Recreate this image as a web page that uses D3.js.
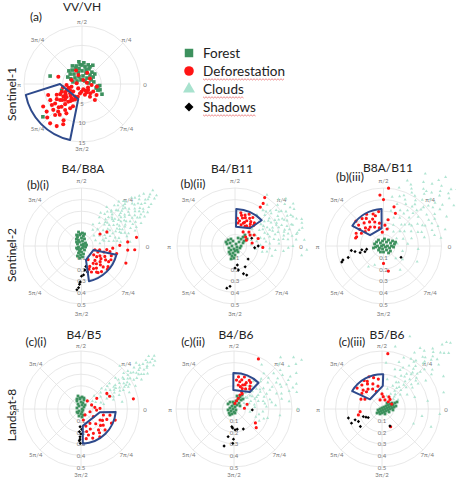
<!DOCTYPE html>
<html>
<head>
<meta charset="utf-8">
<script src="https://cdn.jsdelivr.net/npm/d3@7"></script>
<style>
  body { margin: 0; background: #fff; }
  svg { display: block; font-family: Lato, "Open Sans", sans-serif; }
</style>
</head>
<body>
<svg id="chart" width="456" height="478"></svg>
<script>
// ---- tick labels / categories ----
const angleTicks = [0, 45, 90, 135, 180, 225, 270, 315];
const angleLabels = ["0", "π/4", "π/2", "3π/4", "π", "5π/4", "3π/2", "7π/4"];
const ringsA = [5, 10, 15];
const ringsB = [0.1, 0.2, 0.3, 0.4, 0.5];
const classes = ["Forest", "Deforestation", "Clouds", "Shadows"];

// ---- data: [angle in degrees, radius] ----
// (a) VV/VH
const aForest = [[125,4.4],[108,4.9],[96,5.0],[80,4.5],[65,4.3],[50,4.0],[140,4.0],[129,3.3],[108,3.2],[90,3.4],[70,3.0],[48,3.1],[32,3.4],[155,3.2],[139,2.4],[113,2.0],[83,2.1],[50,2.0],[24,2.6],[10,3.1],[167,2.4],[149,1.5],[104,1.1],[45,1.1],[8,1.8],[111,4.4],[85,5.5],[72,5.2],[101,4.0],[74,3.8],[38,4.2],[154,4.1],[353,4.2],[166,8.5],[342,4.9],[220,13.2],[333,5.8],[197,5.5],[344,3.8],[90,4.9],[65,4.9],[339,4.4],[355,4.6],[202,4.2],[118,5.3],[60,5.6],[98,5.8],[135,4.8]];
const aDefor = [[163,6.4],[201,4.2],[218,3.9],[221,3.0],[229,1.5],[284,1.4],[316,2.2],[326,3.5],[323,4.7],[214,5.8],[223,6.0],[216,7.0],[232,5.8],[234,4.6],[241,3.7],[201,5.6],[203,7.1],[184,4.0],[195,2.8],[172,1.4],[258,2.5],[285,2.9],[302,3.9],[228,7.9],[216,8.6],[207,9.2],[210,11.6],[218,11.6],[229,10.6],[231,13.1],[239,12.7],[243,10.5],[242,8.6],[244,7.0],[222,10.0],[229,9.4],[237,8.0],[215,9.5],[198,9.2],[114,3.8],[112,2.5],[65,3.2],[72,1.1],[35,2.5],[159,2.9],[354,2.5],[15,1.3],[309,5.3],[350,3.9],[208,3.5],[226,4.2],[212,5.0],[236,5.3],[246,4.4],[219,6.6],[205,6.2],[190,5.0],[196,3.6],[248,6.2],[252,3.5],[266,2.0],[300,2.5],[330,1.8],[225,8.5],[234,9.8],[211,7.6],[245,11.5],[224,12.5],[206,4.8],[230,6.8],[220,5.2],[240,4.8],[312,3.2],[296,1.9]];

// (b)(i) B4/B8A
const b1Forest = [[102,0.123],[86,0.112],[100,0.096],[79,0.087],[114,0.085],[90,0.069],[67,0.066],[117,0.058],[79,0.044],[117,0.039],[37,0.043],[153,0.039],[90,0.009],[0,0.017],[198,0.027],[297,0.019],[217,0.043],[307,0.043],[248,0.046],[270,0.052],[247,0.066],[284,0.071],[264,0.078],[248,0.093],[275,0.095],[261,0.105],[141,0.055],[11,0.044],[202,0.046],[346,0.036],[95,0.104],[76,0.107],[114,0.104],[45,0.024],[252,0.027],[126,0.074]];
const b1Defor = [[29,0.25],[33,0.19],[9,0.48],[5,0.4],[1,0.33],[-4,0.27],[-8,0.22],[-12,0.16],[-16,0.12],[-11,0.25],[-12,0.31],[-24,0.22],[-40,0.21],[-56,0.18],[-68,0.19],[-56,0.23],[-44,0.26],[-30,0.27],[-69,0.24],[-58,0.27],[-64,0.13],[-5,0.4],[-21,0.41],[-4,0.46],[-36,0.13],[-28,0.18],[-20,0.15],[-33,0.2],[-47,0.17],[-52,0.28],[-62,0.22],[-38,0.29],[-25,0.28],[-45,0.23],[-15,0.2],[-30,0.24],[-50,0.2],[-60,0.26],[-18,0.27],[-42,0.3],[-72,0.21],[-35,0.16]];
const b1Clouds = [[22,0.13],[40,0.14],[8,0.16],[55,0.17],[30,0.18],[16,0.19],[46,0.2],[62,0.21],[25,0.22],[36,0.23],[10,0.24],[52,0.25],[19,0.26],[43,0.27],[29,0.28],[58,0.29],[14,0.3],[37,0.3],[48,0.31],[23,0.32],[33,0.33],[6,0.34],[54,0.34],[41,0.35],[18,0.36],[28,0.37],[46,0.38],[35,0.39],[12,0.4],[50,0.4],[24,0.41],[39,0.42],[31,0.43],[44,0.44],[20,0.45],[36,0.46],[27,0.47],[48,0.47],[16,0.48],[33,0.49],[41,0.5],[24,0.51],[38,0.52],[30,0.53],[45,0.54],[21,0.55],[35,0.56],[40,0.57],[28,0.58],[33,0.6],[37,0.61],[31,0.62],[39,0.64],[34,0.66],[36,0.68],[26,0.42],[43,0.36],[9,0.28],[51,0.45],[32,0.4],[38,0.35],[29,0.5],[42,0.48],[47,0.53],[25,0.6],[35,0.63],[44,0.6],[20,0.35],[13,0.2],[60,0.33],[57,0.4],[5,0.42],[42,0.3],[36,0.72],[33,0.75],[38,0.78],[31,0.7],[41,0.66],[27,0.64],[34,0.45],[22,0.38],[46,0.43],[18,0.22],[27,0.25],[33,0.27],[45,0.29],[12,0.33],[26,0.34],[39,0.37],[49,0.39],[15,0.42],[29,0.44],[41,0.46],[23,0.48],[36,0.5],[44,0.52],[27,0.54],[33,0.55],[38,0.58],[29,0.61],[42,0.62],[35,0.7],[30,0.67],[40,0.7],[37,0.74],[34,0.78],[22,0.29],[47,0.34],[53,0.37],[8,0.31],[17,0.39],[31,0.36],[36,0.42],[44,0.5],[50,0.5],[26,0.56],[19,0.5],[40,0.44],[31,0.58],[24,0.36]];
const b1Shadows = [[278,0.21],[274,0.25],[270,0.26],[268,0.31],[267,0.33],[266,0.36],[264,0.38],[282,0.18],[283,0.23]];

// (b)(ii) B4/B11
const b2Forest = [[48,0.128],[48,0.104],[30,0.12],[49,0.079],[69,0.074],[120,0.07],[139,0.079],[112,0.046],[45,0.049],[21,0.074],[63,0.019],[149,0.05],[166,0.071],[180,0.026],[333,0.019],[338,0.046],[252,0.027],[225,0.049],[270,0.043],[297,0.058],[254,0.063],[238,0.081],[270,0.078],[253,0.09],[265,0.104],[253,0.117],[297,0.039],[198,0.055],[0,0.052],[29,0.089],[156,0.085],[225,0.073]];
const b2Defor = [[60,0.2],[70,0.21],[80,0.22],[55,0.23],[65,0.24],[75,0.25],[85,0.24],[50,0.26],[62,0.27],[72,0.28],[58,0.29],[68,0.22],[78,0.27],[52,0.21],[83,0.2],[66,0.3],[57,0.25],[74,0.19],[48,0.24],[63,0.19],[70,0.26],[80,0.29],[58.5,0.49],[56.5,0.44],[57,0.4],[60,0.14],[36,0.16],[18,0.21],[-3,0.24],[27,0.11],[45,0.17],[30,0.19],[10,0.15],[40,0.12]];
const b2Clouds = [[5,0.14],[20,0.15],[35,0.17],[-8,0.18],[12,0.19],[28,0.2],[45,0.21],[2,0.22],[18,0.23],[-12,0.24],[33,0.25],[50,0.26],[8,0.27],[24,0.28],[40,0.29],[-4,0.3],[15,0.31],[30,0.32],[55,0.33],[10,0.34],[22,0.35],[37,0.36],[46,0.37],[3,0.38],[18,0.39],[27,0.4],[33,0.41],[42,0.42],[12,0.43],[24,0.44],[52,0.45],[7,0.46],[30,0.47],[38,0.48],[17,0.49],[26,0.5],[44,0.51],[21,0.52],[34,0.53],[11,0.54],[29,0.55],[40,0.56],[24,0.58],[32,0.6],[19,0.61],[36,0.62],[-15,0.33],[-6,0.42],[0,0.5],[14,0.57],[26,0.36],[35,0.45],[48,0.4],[20,0.3],[8,0.38],[31,0.28],[58,0.52],[43,0.6],[16,0.44],[28,0.48],[-10,0.28],[-8,0.58],[5,0.6],[12,0.55],[-3,0.62],[4,0.3],[16,0.36],[23,0.41],[31,0.44],[39,0.38],[13,0.47],[20,0.53],[27,0.56],[35,0.58],[10,0.5],[18,0.45],[25,0.33],[33,0.37],[41,0.47],[47,0.55],[6,0.53],[-2,0.46],[15,0.6],[22,0.62],[30,0.52],[37,0.5],[45,0.43],[52,0.39],[29,0.41],[21,0.48],[8,0.42],[-6,0.35],[35,0.3],[14,0.26],[40,0.33]];
const b2Shadows = [[25,0.159],[0,0.2],[355,0.17],[277,0.165],[270,0.19],[278,0.21],[287,0.25],[292,0.27],[296,0.2],[263,0.35],[259,0.37],[315,0.16]];

// (b)(iii) B8A/B11
const b3Forest = [[167,0.079],[150,0.069],[130,0.067],[135,0.037],[101,0.044],[82,0.061],[53,0.043],[50,0.067],[23,0.066],[29,0.089],[10,0.096],[187,0.069],[180,0.052],[207,0.039],[180,0.017],[90,0.009],[333,0.019],[0,0.034],[342,0.055],[0,0.069],[354,0.087],[219,0.055],[252,0.027],[307,0.043],[324,0.074],[270,0.052],[306,0.074],[243,0.058],[18,0.109],[191,0.088]];
const b3Defor = [[100,0.2],[110,0.22],[120,0.24],[130,0.26],[140,0.28],[105,0.27],[115,0.18],[125,0.2],[135,0.22],[145,0.25],[98,0.3],[108,0.29],[118,0.31],[128,0.3],[138,0.32],[112,0.25],[122,0.28],[132,0.19],[103,0.16],[142,0.2],[85,0.5],[94,0.44],[90,0.4],[80,0.23],[86,0.18],[161,0.245],[164,0.25],[270,0.15],[281,0.22],[70,0.3],[75,0.35],[150,0.22],[155,0.26],[95,0.12],[78,0.15]];
const b3Clouds = [[10,0.12],[30,0.13],[55,0.15],[75,0.16],[-15,0.17],[20,0.18],[42,0.19],[65,0.2],[5,0.21],[35,0.22],[82,0.23],[50,0.24],[15,0.25],[70,0.26],[28,0.27],[60,0.28],[40,0.29],[-5,0.3],[78,0.31],[22,0.32],[48,0.33],[65,0.34],[33,0.35],[12,0.36],[56,0.37],[72,0.38],[40,0.39],[26,0.4],[62,0.41],[47,0.42],[80,0.43],[18,0.44],[53,0.45],[36,0.46],[68,0.47],[44,0.48],[28,0.5],[58,0.51],[50,0.52],[38,0.54],[64,0.55],[45,0.57],[33,0.58],[55,0.6],[48,0.62],[42,0.65],[52,0.68],[46,0.72],[40,0.76],[48,0.8],[-35,0.2],[-55,0.25],[-25,0.32],[-45,0.15],[234,0.22],[245,0.18],[8,0.5],[70,0.6],[85,0.5],[25,0.6],[15,0.55],[60,0.72],[36,0.7],[20,0.5],[30,0.45],[42,0.52],[55,0.48],[65,0.44],[35,0.62],[52,0.57],[58,0.65],[44,0.68],[50,0.74],[38,0.8],[30,0.7],[25,0.46],[62,0.52],[72,0.45],[48,0.38],[36,0.3],[58,0.33],[45,0.26],[28,0.38],[54,0.42],[40,0.58],[32,0.52],[66,0.58],[75,0.52],[20,0.35],[12,0.45],[44,0.45],[52,0.6],[39,0.72]];
const b3Shadows = [[199,0.37],[201,0.385],[188,0.28],[191,0.25],[196,0.21],[190,0.19],[197,0.167],[191,0.148],[198,0.32],[327,0.18]];

// (c)(i) B4/B5
const c1Forest = [[103,0.115],[85,0.104],[96,0.087],[72,0.082],[117,0.077],[90,0.06],[72,0.055],[121,0.05],[76,0.036],[124,0.031],[34,0.031],[166,0.036],[0,0.009],[333,0.019],[225,0.024],[288,0.027],[233,0.043],[270,0.043],[288,0.055],[254,0.063],[277,0.07],[217,0.043],[45,0.049],[95,0.095],[75,0.098],[112,0.093]];
const c1Defor = [[52,0.088],[21,0.098],[34,0.164],[31,0.26],[24,0.27],[11,0.46],[7,0.12],[2,0.164],[-4,0.135],[-17,0.081],[-56,0.062],[-78,0.097],[-74,0.153],[-58,0.146],[-32,0.125],[-30,0.19],[-22,0.24],[-25,0.29],[-41,0.275],[-50,0.235],[-63,0.235],[-74,0.233],[-56,0.29],[-12,0.255],[-18,0.31],[-76,0.2],[-36,0.237],[-45,0.18],[-65,0.19],[-28,0.21],[-52,0.26],[-40,0.22],[-68,0.27],[-15,0.2],[-80,0.26]];
const c1Clouds = [[15,0.1],[35,0.12],[25,0.14],[45,0.16],[18,0.18],[32,0.2],[40,0.22],[22,0.24],[28,0.26],[38,0.27],[16,0.29],[33,0.3],[26,0.32],[42,0.33],[20,0.35],[35,0.36],[29,0.38],[24,0.4],[38,0.41],[31,0.43],[19,0.44],[35,0.45],[27,0.47],[40,0.48],[32,0.5],[23,0.51],[36,0.53],[29,0.55],[33,0.57],[38,0.58],[30,0.6],[35,0.62],[32,0.64],[36,0.66],[33,0.68],[37,0.7],[34,0.72],[35,0.75],[36,0.78],[31,0.73],[26,0.58],[42,0.4],[21,0.3],[45,0.25],[12,0.2],[10,0.36],[48,0.5],[28,0.65],[40,0.62],[25,0.45],[31,0.35],[38,0.74],[30,0.33],[34,0.4],[27,0.42],[33,0.48],[29,0.52],[35,0.55],[31,0.58],[34,0.6],[37,0.63],[32,0.67],[35,0.7],[33,0.76],[28,0.44],[36,0.5],[30,0.46],[25,0.37],[39,0.52],[34,0.34],[23,0.28],[41,0.3],[29,0.62],[37,0.45]];
const c1Shadows = [[267,0.153],[266,0.196],[268,0.24],[267,0.274],[269,0.296],[272,0.175],[270,0.215],[268,0.26]];

// (c)(ii) B4/B6
const c2Forest = [[60,0.139],[63,0.116],[68,0.093],[52,0.098],[76,0.071],[50,0.067],[90,0.043],[53,0.043],[124,0.031],[63,0.019],[166,0.036],[180,0.009],[333,0.019],[214,0.031],[270,0.026],[219,0.055],[248,0.046],[236,0.062],[284,0.036],[189,0.052],[120,0.069],[140,0.067],[27,0.058],[48,0.116],[77,0.115],[98,0.061]];
const c2Defor = [[60,0.2],[70,0.22],[80,0.21],[55,0.24],[65,0.25],[75,0.26],[85,0.25],[62,0.28],[72,0.29],[58,0.27],[68,0.19],[78,0.24],[52,0.22],[66,0.23],[82,0.28],[74,0.2],[64,0.48],[4,0.09],[-33,0.22],[-40,0.25],[67,0.13],[68,0.1],[72,0.075],[80,0.05],[66,0.163],[62,0.15],[20,0.12]];
const c2Clouds = [[30,0.1],[50,0.11],[15,0.12],[65,0.13],[-10,0.14],[40,0.15],[25,0.16],[55,0.17],[5,0.18],[35,0.19],[-20,0.2],[48,0.21],[18,0.22],[62,0.23],[30,0.24],[-5,0.25],[42,0.26],[10,0.27],[22,0.28],[55,0.29],[-15,0.3],[35,0.31],[15,0.32],[46,0.33],[28,0.35],[5,0.36],[38,0.37],[20,0.39],[50,0.4],[12,0.42],[32,0.43],[25,0.45],[42,0.46],[8,0.48],[18,0.5],[35,0.51],[28,0.53],[45,0.55],[15,0.56],[22,0.58],[38,0.6],[30,0.62],[41,0.68],[36,0.72],[-25,0.24],[-8,0.4],[0,0.55],[58,0.45],[26,0.2],[44,0.22],[12,0.18],[33,0.27],[20,0.14],[40,0.18],[28,0.22],[52,0.25],[15,0.26],[37,0.28],[25,0.31],[48,0.35],[10,0.33],[30,0.38],[42,0.4],[18,0.43],[35,0.46],[25,0.5],[40,0.52],[30,0.56],[48,0.6],[20,0.54],[36,0.66],[28,0.45],[-12,0.22],[-18,0.27],[4,0.28],[58,0.2],[45,0.14]];
const c2Shadows = [[263,0.154],[266,0.165],[273,0.18],[279,0.177],[295,0.19],[258,0.244],[269,0.26],[268,0.296],[255,0.33],[357,0.158]];

// (c)(iii) B5/B6
const c3Forest = [[219,0.055],[225,0.037],[243,0.019],[315,0.012],[0,0.026],[11,0.044],[16,0.063],[18,0.082],[20,0.101],[25,0.123],[25,0.143],[248,0.046],[270,0.034],[304,0.031],[333,0.039],[351,0.052],[0,0.069],[6,0.087],[9,0.105],[194,0.036],[180,0.017],[90,0.009],[45,0.024],[37,0.043],[34,0.062],[32,0.081],[31,0.1],[301,0.05],[337,0.066],[355,0.095],[12,0.123],[50,0.067]];
const c3Defor = [[100,0.2],[110,0.23],[120,0.25],[130,0.27],[140,0.28],[105,0.28],[115,0.19],[125,0.21],[135,0.23],[97,0.26],[112,0.3],[122,0.29],[132,0.2],[142,0.22],[108,0.16],[118,0.27],[84,0.48],[187,0.19],[194,0.21],[296,0.17],[150,0.17],[155,0.2],[102,0.08],[72,0.082],[49,0.083],[27,0.094],[84,0.107],[50,0.108],[60,0.12],[90,0.13]];
const c3Clouds = [[25,0.1],[50,0.11],[70,0.12],[40,0.13],[60,0.15],[30,0.16],[48,0.17],[75,0.18],[55,0.19],[38,0.2],[65,0.22],[45,0.23],[52,0.24],[30,0.25],[80,0.26],[58,0.27],[42,0.28],[68,0.3],[50,0.31],[35,0.32],[60,0.33],[47,0.35],[72,0.36],[55,0.37],[40,0.38],[63,0.4],[50,0.41],[45,0.43],[58,0.44],[33,0.45],[52,0.47],[67,0.48],[43,0.5],[55,0.51],[48,0.53],[38,0.55],[60,0.56],[50,0.58],[45,0.6],[54,0.62],[42,0.64],[48,0.66],[69,0.67],[44,0.7],[40,0.75],[46,0.8],[38,0.85],[-10,0.35],[-20,0.45],[-5,0.5],[10,0.4],[-25,0.3],[15,0.55],[20,0.3],[85,0.4],[78,0.55],[28,0.6],[35,0.38],[45,0.15],[55,0.22],[62,0.26],[48,0.28],[40,0.33],[55,0.34],[65,0.37],[50,0.39],[44,0.46],[56,0.49],[48,0.55],[52,0.57],[46,0.63],[50,0.68],[42,0.72],[47,0.76],[44,0.82],[60,0.5],[35,0.52],[70,0.43],[58,0.62],[38,0.62],[52,0.44],[42,0.4]];
const c3Shadows = [[195,0.3],[202,0.25],[208,0.23],[219,0.24],[202,0.174],[207,0.155],[205,0.29],[295,0.162],[212,0.14]];

// selection regions: outer radius, start/end angle on the outer ring, inner corners
const aRegion = { outer: 14.8, from: 191, to: 258, inner: [[180, 5.7], [256, 4.0]] };
const b1Region = { outer: 0.31, from: -14, to: -78, inner: [[-18, 0.11], [-72, 0.125]] };
const b2Region = { outer: 0.32, from: 88, to: 44, inner: [[87, 0.166], [50, 0.2]] };
const b3Region = { outer: 0.32, from: 93, to: 147, inner: [[96, 0.152], [141, 0.149]] };
const c1Region = { outer: 0.3, from: -5, to: -87, inner: [[-10, 0.165], [-84, 0.146]] };
const c2Region = { outer: 0.31, from: 91, to: 47, inner: [[92, 0.164], [47, 0.2]] };
const c3Region = { outer: 0.3, from: 88, to: 149, inner: [[88, 0.2], [141, 0.133]] };

// ---- styling / layout ----
const colors = { Forest: "#3d915e", Deforestation: "#ff1414", Clouds: "#a8e2ce", Shadows: "#000000" };
const gridColor = "#e2e2e2";
const R = 58;

const panels = [
  { title: "VV/VH", tag: "(a)", cx: 82, cy: 84, max: 15, rings: ringsA, labelR: 63, big: true,
    tx: 82, ty: 6, lx: 36, ly: 16, forest: aForest, defor: aDefor, clouds: [], shadows: [], region: aRegion },
  { title: "B4/B8A", tag: "(b)(i)", cx: 81.5, cy: 246, max: 0.5, rings: ringsB, labelR: 66,
    tx: 83, ty: 168, lx: 38, ly: 184, forest: b1Forest, defor: b1Defor, clouds: b1Clouds, shadows: b1Shadows, region: b1Region },
  { title: "B4/B11", tag: "(b)(ii)", cx: 235, cy: 246, max: 0.5, rings: ringsB, labelR: 66,
    tx: 232, ty: 168, lx: 193, ly: 183, forest: b2Forest, defor: b2Defor, clouds: b2Clouds, shadows: b2Shadows, region: b2Region },
  { title: "B8A/B11", tag: "(b)(iii)", cx: 383.5, cy: 246, max: 0.5, rings: ringsB, labelR: 66,
    tx: 388, ty: 167, lx: 350, ly: 176, forest: b3Forest, defor: b3Defor, clouds: b3Clouds, shadows: b3Shadows, region: b3Region },
  { title: "B4/B5", tag: "(c)(i)", cx: 81, cy: 409, max: 0.5, rings: ringsB, labelR: 64,
    tx: 84, ty: 334, lx: 36, ly: 341, forest: c1Forest, defor: c1Defor, clouds: c1Clouds, shadows: c1Shadows, region: c1Region },
  { title: "B4/B6", tag: "(c)(ii)", cx: 234, cy: 409, max: 0.5, rings: ringsB, labelR: 64,
    tx: 236, ty: 334, lx: 193, ly: 341, forest: c2Forest, defor: c2Defor, clouds: c2Clouds, shadows: c2Shadows, region: c2Region },
  { title: "B5/B6", tag: "(c)(iii)", cx: 382, cy: 409, max: 0.5, rings: ringsB, labelR: 64,
    tx: 387, ty: 334, lx: 352, ly: 341, forest: c3Forest, defor: c3Defor, clouds: c3Clouds, shadows: c3Shadows, region: c3Region }
];

const svg = d3.select("#chart");

// degrees (counter-clockwise from east) -> d3 radial angle (clockwise from north)
const ang = d3.scaleLinear().domain([0, 360]).range([Math.PI / 2, Math.PI / 2 - 2 * Math.PI]);

function drawPanel(p) {
  const g = svg.append("g").attr("transform", `translate(${p.cx},${p.cy})`);
  const r = d3.scaleLinear().domain([0, p.max]).range([0, R]);

  g.selectAll("circle.ring")
    .data(p.rings)
    .join("circle")
    .attr("class", "ring")
    .attr("r", (d) => r(d))
    .attr("fill", "none")
    .attr("stroke", gridColor)
    .attr("stroke-width", 0.8);

  g.selectAll("line.spoke")
    .data(angleTicks)
    .join("line")
    .attr("class", "spoke")
    .attr("x2", (d) => d3.pointRadial(ang(d), R)[0])
    .attr("y2", (d) => d3.pointRadial(ang(d), R)[1])
    .attr("stroke", gridColor)
    .attr("stroke-width", 0.8);

  g.selectAll("text.alab")
    .data(angleTicks)
    .join("text")
    .attr("class", "alab")
    .attr("x", (d) => d3.pointRadial(ang(d), p.labelR)[0])
    .attr("y", (d) => d3.pointRadial(ang(d), p.labelR)[1] + (d === 270 ? 1.5 : 0))
    .attr("text-anchor", "middle")
    .attr("dominant-baseline", "central")
    .attr("font-size", 6)
    .attr("fill", "#777")
    .text((d, i) => angleLabels[i]);

  g.selectAll("text.rlab")
    .data(p.rings)
    .join("text")
    .attr("class", "rlab")
    .attr("x", 0)
    .attr("y", (d) => r(d))
    .attr("text-anchor", "middle")
    .attr("dominant-baseline", "central")
    .attr("font-size", 6)
    .attr("fill", "#777")
    .text((d) => d);

  const pos = (d) => d3.pointRadial(ang(d[0]), r(d[1]));
  const layers = [
    { key: "Clouds", data: p.clouds, type: d3.symbolTriangle, size: 4, opacity: 0.9 },
    { key: "Forest", data: p.forest, type: d3.symbolSquare, size: p.big ? 13 : 8, opacity: 1 },
    { key: "Deforestation", data: p.defor, type: d3.symbolCircle, size: p.big ? 13 : 8, opacity: 1 },
    { key: "Shadows", data: p.shadows, type: d3.symbolDiamond2, size: 7, opacity: 1 }
  ];
  layers.forEach((l) => {
    g.append("g")
      .selectAll("path")
      .data(l.data)
      .join("path")
      .attr("transform", (d) => `translate(${pos(d)})`)
      .attr("d", d3.symbol().type(l.type).size(l.size))
      .attr("fill", colors[l.key])
      .attr("opacity", l.opacity);
  });

  // selection region outline
  const reg = p.region;
  const path = d3.path();
  const start = d3.pointRadial(ang(reg.from), r(reg.outer));
  path.moveTo(start[0], start[1]);
  reg.inner.forEach((v) => {
    const q = d3.pointRadial(ang(v[0]), r(v[1]));
    path.lineTo(q[0], q[1]);
  });
  const end = d3.pointRadial(ang(reg.to), r(reg.outer));
  path.lineTo(end[0], end[1]);
  path.arc(0, 0, r(reg.outer), (-reg.to * Math.PI) / 180, (-reg.from * Math.PI) / 180, reg.to < reg.from);
  path.closePath();
  g.append("path")
    .attr("d", path.toString())
    .attr("fill", "none")
    .attr("stroke", "#2e4a8c")
    .attr("stroke-width", 2)
    .attr("stroke-linejoin", "round");

  svg.append("text")
    .attr("x", p.tx)
    .attr("y", p.ty)
    .attr("text-anchor", "middle")
    .attr("dominant-baseline", "central")
    .attr("font-size", 12)
    .attr("fill", "#222")
    .text(p.title);

  svg.append("text")
    .attr("x", p.lx)
    .attr("y", p.ly)
    .attr("text-anchor", "middle")
    .attr("dominant-baseline", "central")
    .attr("font-size", 12)
    .attr("fill", "#222")
    .text(p.tag);
}

panels.forEach(drawPanel);

// row labels
const rowLabels = [
  { text: "Sentinel-1", y: 94 },
  { text: "Sentinel-2", y: 255 },
  { text: "Landsat-8", y: 415 }
];
svg.selectAll("text.row")
  .data(rowLabels)
  .join("text")
  .attr("class", "row")
  .attr("transform", (d) => `translate(11,${d.y}) rotate(-90)`)
  .attr("text-anchor", "middle")
  .attr("dominant-baseline", "central")
  .attr("font-size", 12)
  .attr("fill", "#222")
  .text((d) => d.text);

// legend
const legendSymbols = [d3.symbolSquare, d3.symbolCircle, d3.symbolTriangle, d3.symbolDiamond2];
const legendSizes = [72, 72, 62, 52];
const legendY = d3.scalePoint().domain(classes).range([53, 107]);
const lg = svg.append("g");
classes.forEach((c, i) => {
  lg.append("path")
    .attr("transform", `translate(189,${legendY(c)})`)
    .attr("d", d3.symbol().type(legendSymbols[i]).size(legendSizes[i]))
    .attr("fill", colors[c]);
  const t = lg.append("text")
    .attr("x", 203)
    .attr("y", legendY(c))
    .attr("dominant-baseline", "central")
    .attr("font-size", 13.5)
    .attr("fill", "#222")
    .text(c);
  if (i > 0) {
    // spell-check squiggle under the word
    const w = t.node().getComputedTextLength();
    const zig = d3.range(0, w + 0.1, 1.5).map((x, k) => [203 + x, legendY(c) + 8 + (k % 2 ? 1 : -0.2)]);
    lg.append("path")
      .attr("d", d3.line()(zig))
      .attr("fill", "none")
      .attr("stroke", "#e04040")
      .attr("stroke-width", 0.6);
  }
});
</script>
</body>
</html>
